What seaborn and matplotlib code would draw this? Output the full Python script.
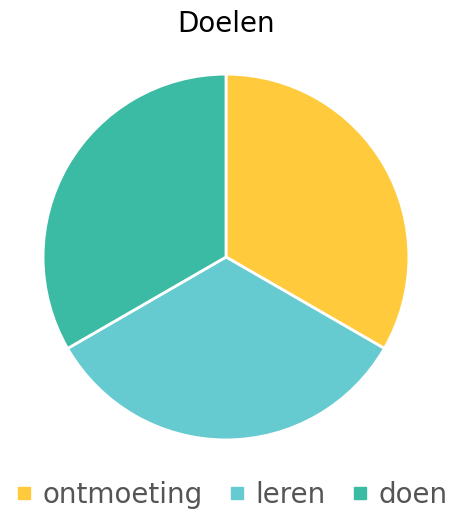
import matplotlib
matplotlib.use("Agg")
import matplotlib.pyplot as plt
from matplotlib.lines import Line2D
import seaborn as sns

# chart data
labels = ["ontmoeting", "leren", "doen"]
values = [1, 1, 1]
colors = ["#FFCB3D", "#66CAD1", "#3BBBA4"]

sns.set_style("white")
plt.rcParams['font.family'] = ['DejaVu Sans']

fig = plt.figure(figsize=(4.53, 5.13), dpi=100)
ax = fig.add_axes([0.0971, 0.1442, 0.8035, 0.7096])

palette = sns.color_palette(colors)
ax.pie(values, colors=palette, startangle=90, counterclock=False,
       wedgeprops={'edgecolor': 'white', 'linewidth': 2})
ax.set_aspect('equal')
ax.set_xlim(-0.995, 0.995)
ax.set_ylim(-0.995, 0.995)

fig.text(0.5, 0.953, "Doelen", ha='center', va='center', fontsize=20, color='black')

handles = [Line2D([0], [0], marker='s', linestyle='', markersize=9,
                  markerfacecolor=c, markeredgecolor=c) for c in palette]
fig.legend(handles, labels, loc='center', bbox_to_anchor=(0.51, 0.035), ncol=3,
           frameon=False, fontsize=20, labelcolor='#555555',
           handletextpad=0.3, columnspacing=0.9, handlelength=0.7)

fig.savefig("out.png", dpi=100)
